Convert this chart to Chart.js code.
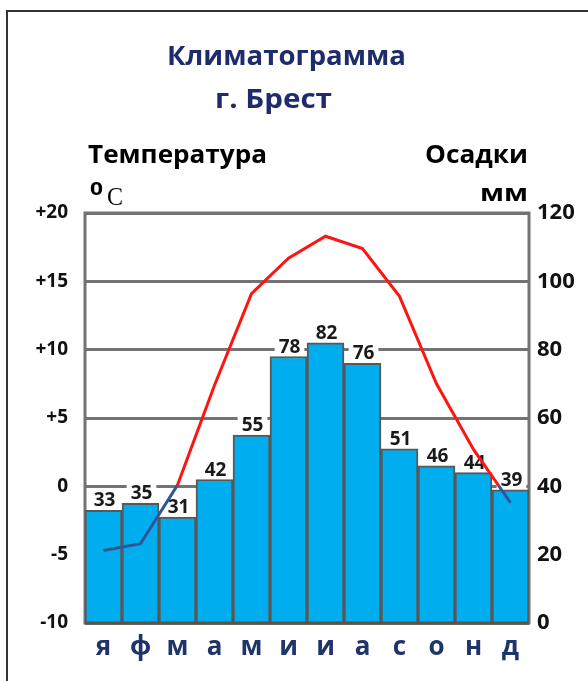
<!DOCTYPE html>
<html>
<head>
<meta charset="utf-8">
<script src="https://cdn.jsdelivr.net/npm/chart.js@4.4.1/dist/chart.umd.min.js"></script>
<style>
html,body{margin:0;padding:0;background:#fff;}
body{width:588px;height:681px;position:relative;overflow:hidden;font-family:"Open Sans",sans-serif;}
#frame{position:absolute;left:6px;top:10px;width:700px;height:800px;border-left:2px solid #333;border-top:2px solid #333;}
#wrap{position:absolute;left:0;top:0;width:588px;height:681px;}
.t{position:absolute;left:0;top:0;white-space:nowrap;line-height:1;font-weight:700;transform-origin:0 0;color:#000;}
.t .bl{display:inline-block;width:0;height:0;}
</style>
</head>
<body>
<div id="frame"></div>
<div id="wrap"><canvas id="c" width="588" height="681"></canvas></div>
<div class="t" id="t1" style="color:#1f2c6b">Климатограмма<span class="bl"></span></div>
<div class="t" id="t2" style="color:#1f2c6b">г. Брест<span class="bl"></span></div>
<div class="t" id="t3">Температура<span class="bl"></span></div>
<div class="t" id="t4">Осадки<span class="bl"></span></div>
<div class="t" id="t5">мм<span class="bl"></span></div>
<div class="t" id="t6">0<span class="bl"></span></div>
<div class="t" id="t7" style="font-family:'Liberation Serif',serif;font-weight:400">C<span class="bl"></span></div>
<script>
const months = ['я','ф','м','а','м','и','и','а','с','о','н','д'];
const precipitation = [33,35,31,42,55,78,82,76,51,46,44,39];
const temperature = [-4.7,-4.2,0.1,7.4,14.1,16.7,18.3,17.4,13.9,7.5,2.7,-1.2];
const tempTicks = [-10,-5,0,5,10,15,20];
const precTicks = [0,20,40,60,80,100,120];

const RED = '#ff1414';
const BLUE = '#2f5597';
const GRID = '#737373';

// text placement: [id, left, right, baseline, fontSize]
const textSpecs = [
  ['t1',167,406,65,26],
  ['t2',215,332,108,26],
  ['t3',88,267,163,25],
  ['t4',425,528,163,25],
  ['t5',480,528,201,24],
  ['t6',90,103,195,17],
  ['t7',107,123,205,26]
];
function placeTexts(){
  textSpecs.forEach(([id,l,r,b,fs])=>{
    const el=document.getElementById(id);
    el.style.fontSize=fs+'px';
    el.style.transform='none';
    const w=el.getBoundingClientRect().width;
    const bl=el.querySelector('.bl').offsetTop;
    const sx=(r-l)/w;
    el.style.left=l+'px';
    el.style.top=(b-bl)+'px';
    el.style.transform='scaleX('+sx+')';
  });
}
placeTexts();
if(document.fonts&&document.fonts.ready){document.fonts.ready.then(placeTexts);}

const frame = {
  id:'frame',
  beforeDatasetsDraw(chart){
    const {ctx,chartArea:a}=chart;
    ctx.save();
    ctx.strokeStyle=GRID; ctx.lineWidth=3;
    ctx.strokeRect(a.left,a.top,a.right-a.left,a.bottom-a.top);
    ctx.restore();
  },
  afterDatasetDraw(chart,args){
    if(args.index!==0) return;
    const {ctx,chartArea:a}=chart;
    ctx.save();
    ctx.strokeStyle='#5e5248'; ctx.lineWidth=3;
    ctx.beginPath(); ctx.moveTo(a.left,a.bottom); ctx.lineTo(a.right,a.bottom); ctx.stroke();
    const meta=chart.getDatasetMeta(0);
    ctx.font='bold 19px "Open Sans"';
    ctx.textAlign='center'; ctx.textBaseline='alphabetic';
    meta.data.forEach((bar,i)=>{
      const txt=String(precipitation[i]);
      const w=ctx.measureText(txt).width;
      const x=bar.x+1, yb=bar.y;
      ctx.fillStyle='#fff';
      ctx.fillRect(x-w/2-4,yb-21,w+8,20);
      ctx.fillStyle='#1a1a1a';
      ctx.fillText(txt,x,yb-4);
    });
    ctx.restore();
  }
};

function lineColor(c){
  const ch=c.chart, a=ch.chartArea;
  if(!a) return RED;
  const y0=ch.scales.yT.getPixelForValue(0);
  const g=ch.ctx.createLinearGradient(0,a.top,0,a.bottom);
  const f=Math.min(1,Math.max(0,(y0-a.top)/(a.bottom-a.top)));
  g.addColorStop(0,RED); g.addColorStop(f,RED);
  g.addColorStop(f,BLUE); g.addColorStop(1,BLUE);
  return g;
}

new Chart(document.getElementById('c'),{
  type:'bar',
  data:{
    labels:months,
    datasets:[
      {type:'bar',data:precipitation,yAxisID:'yP',backgroundColor:'#00aeef',borderColor:'#585858',borderWidth:2,barPercentage:1,categoryPercentage:1,order:2},
      {type:'line',data:temperature,yAxisID:'yT',borderColor:lineColor,borderWidth:3,pointRadius:0,tension:0,fill:false,order:1}
    ]
  },
  options:{
    responsive:false,
    animation:false,
    layout:{padding:{top:213,left:0,right:0,bottom:0}},
    plugins:{legend:{display:false},tooltip:{enabled:false},title:{display:false}},
    scales:{
      x:{
        grid:{display:false},border:{display:false},
        ticks:{color:'#1f3468',font:{family:'"Open Sans"',size:26,weight:'bold'},padding:1,maxRotation:0,autoSkip:false},
        afterFit(s){s.height=58;}
      },
      yT:{
        position:'left',min:-10,max:20,
        afterBuildTicks(s){s.ticks=tempTicks.map(v=>({value:v}));},
        grid:{color:GRID,lineWidth:3,drawTicks:false},border:{display:false},
        ticks:{color:'#111',font:{family:'"Open Sans"',size:19,weight:'bold'},padding:17,callback:v=>v>0?'+'+v:String(v)},
        afterFit(s){s.width=85;}
      },
      yP:{
        position:'right',min:0,max:120,
        afterBuildTicks(s){s.ticks=precTicks.map(v=>({value:v}));},
        grid:{display:false,drawTicks:false},border:{display:false},
        ticks:{color:'#111',font:{family:'"Open Sans"',size:22,weight:'bold'},padding:8},
        afterFit(s){s.width=59;}
      }
    }
  },
  plugins:[frame]
});
</script>
</body>
</html>
